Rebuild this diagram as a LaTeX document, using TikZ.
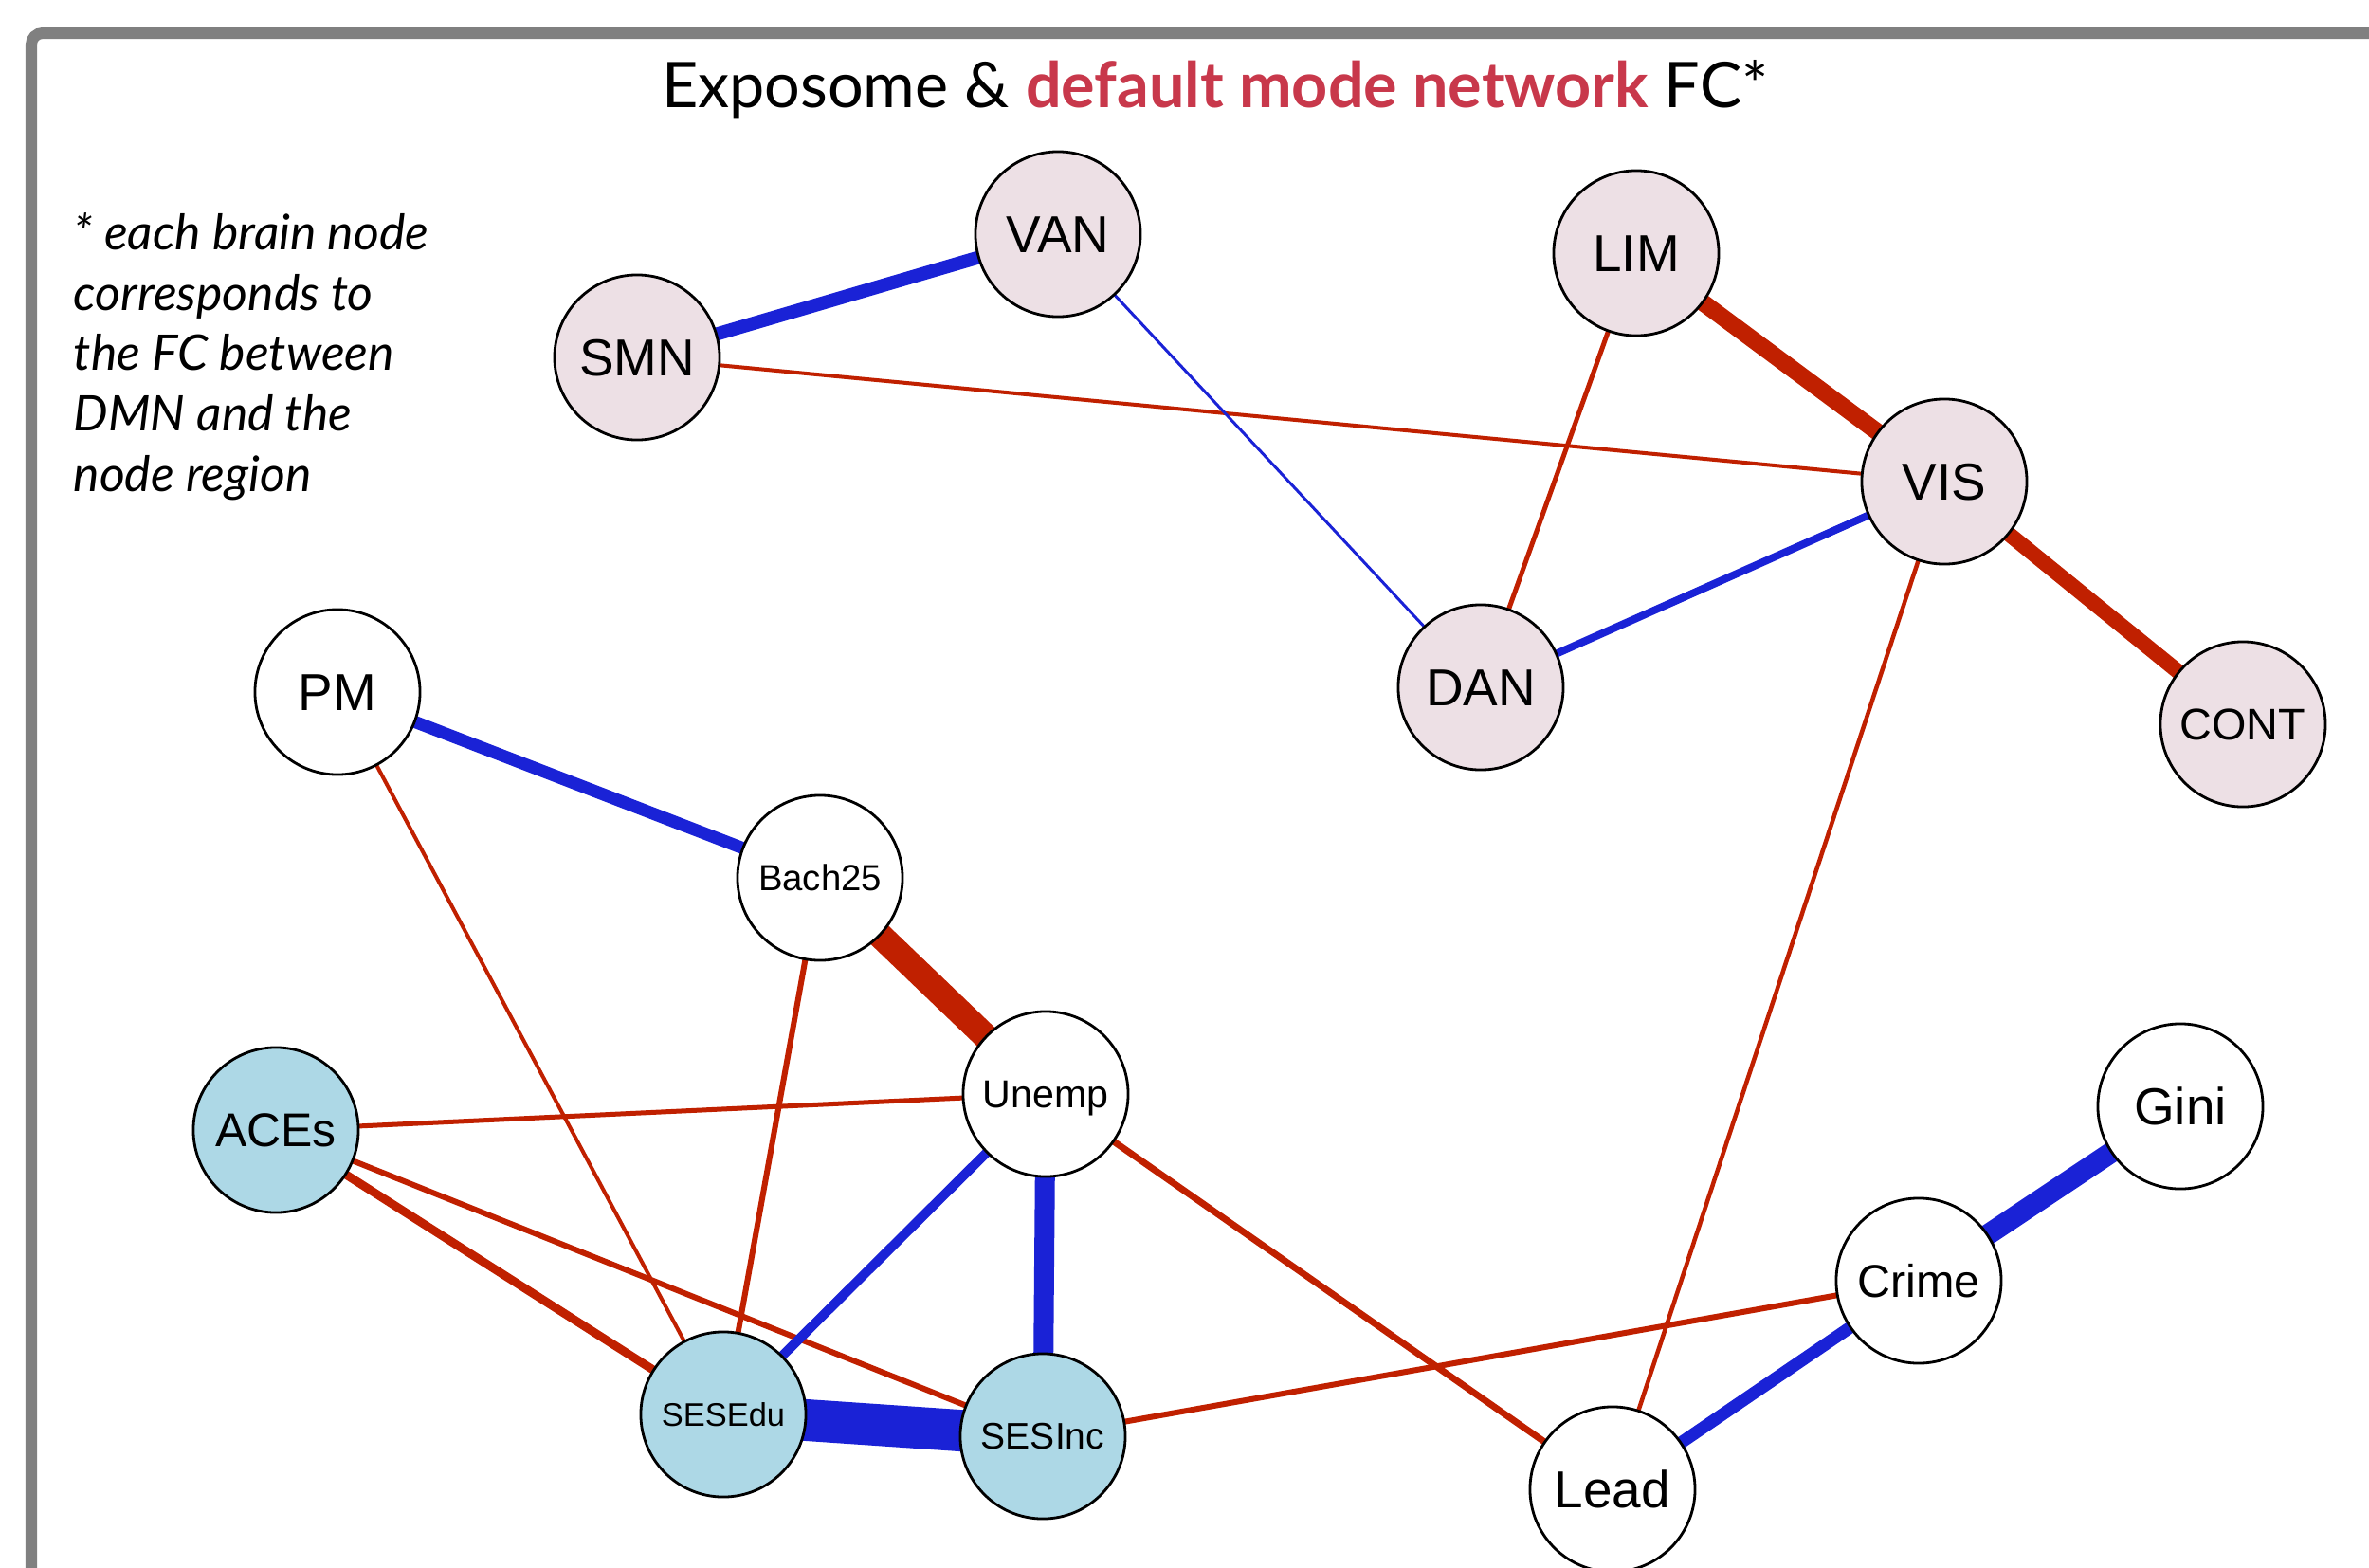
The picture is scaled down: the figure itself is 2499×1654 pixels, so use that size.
\documentclass[tikz,border=0pt]{standalone}
\usepackage{fontspec}
\setmainfont{Liberation Sans}
\newfontfamily\headfont{Lato}
\usetikzlibrary{backgrounds}

\definecolor{edgered}{RGB}{192,32,0}
\definecolor{edgeblue}{RGB}{26,34,214}
\definecolor{brainpink}{RGB}{237,224,229}
\definecolor{devblue}{RGB}{173,216,230}
\definecolor{titlered}{RGB}{200,56,75}
\definecolor{framegray}{RGB}{128,128,128}

\begin{document}
\begin{tikzpicture}[x=0.01cm,y=-0.01cm,
  net/.style={circle,draw=black,line width=0.8pt,minimum size=1.74cm,
    inner sep=0pt,text depth=0pt},
  brain/.style={net,fill=brainpink},
  expo/.style={net,fill=white},
  devel/.style={net,fill=devblue},
  % label size; the box height equals the cap height so the capitals sit centred
  lab/.style={font=\fontsize{#1}{#1}\selectfont,text height=0.716*#1},
  redlink/.style={draw=edgered,line width=#1*0.01cm},
  bluelink/.style={draw=edgeblue,line width=#1*0.01cm}]

\useasboundingbox (0,0) rectangle (2499,1654);
\clip (0,0) rectangle (2499,1654);

% outer frame
\draw[framegray,line width=0.12cm,rounded corners=0.12cm]
  (33,1800) -- (33,35) -- (2650,35);

% title
\node[anchor=base,inner sep=0pt] (title) at (1282,113)
  {\headfont\fontsize{18.9pt}{21pt}\selectfont Exposome \&
   {\color{titlered}\bfseries default mode network} FC*};

% footnote
\node[anchor=north west,inner sep=0pt,align=left,
  font=\headfont\itshape\fontsize{14.7pt}{18.1pt}\selectfont] (note) at (77,224)
  {* each brain node\\corresponds to\\the FC between\\DMN and the\\node region};

% brain network nodes
\node[brain,lab=15.6pt] (VAN) at (1116,247) {VAN};
\node[brain,lab=15.6pt] (SMN) at (672,377) {SMN};
\node[brain,lab=15.6pt] (LIM) at (1726,267) {LIM};
\node[brain,lab=15.6pt] (VIS) at (2051,508) {VIS};
\node[brain,lab=15.6pt] (DAN) at (1562,725) {DAN};
\node[brain,lab=13.3pt] (CONT) at (2366,764) {CONT};

% exposome nodes
\node[expo,lab=15.6pt] (PM) at (356,730) {PM};
\node[expo,lab=10.9pt] (Bach) at (865,926) {Bach25};
\node[expo,lab=11.7pt] (Unemp) at (1103,1154) {Unemp};
\node[expo,lab=15.6pt] (Lead) at (1701,1571) {Lead};
\node[expo,lab=13.8pt] (Crime) at (2024,1351) {Crime};
\node[expo,lab=15.6pt] (Gini) at (2300,1167) {Gini};

% developmental nodes
\node[devel,lab=14.2pt] (ACEs) at (291,1192) {ACEs};
\node[devel,lab=9.8pt] (SESEdu) at (763,1492) {SESEdu};
\node[devel,lab=11.1pt] (SESInc) at (1100,1515) {SESInc};

% connections
\begin{scope}[on background layer]
\draw[bluelink=14] (SMN.center) -- (VAN.center);
\draw[redlink=4] (SMN.center) -- (VIS.center);
\draw[bluelink=3] (VAN.center) -- (DAN.center);
\draw[redlink=18] (LIM.center) -- (VIS.center);
\draw[redlink=5] (LIM.center) -- (DAN.center);
\draw[bluelink=8] (DAN.center) -- (VIS.center);
\draw[redlink=16] (VIS.center) -- (CONT.center);
\draw[redlink=4.5] (VIS.center) -- (Lead.center);
\draw[bluelink=13] (PM.center) -- (Bach.center);
\draw[redlink=4] (PM.center) -- (SESEdu.center);
\draw[redlink=27] (Bach.center) -- (Unemp.center);
\draw[redlink=6] (Bach.center) -- (SESEdu.center);
\draw[redlink=5] (ACEs.center) -- (Unemp.center);
\draw[redlink=9] (ACEs.center) -- (SESEdu.center);
\draw[redlink=6] (ACEs.center) -- (SESInc.center);
\draw[bluelink=10] (Unemp.center) -- (SESEdu.center);
\draw[bluelink=21] (Unemp.center) -- (SESInc.center);
\draw[redlink=7] (Unemp.center) -- (Lead.center);
\draw[bluelink=44] (SESEdu.center) -- (SESInc.center);
\draw[redlink=6] (SESInc.center) -- (Crime.center);
\draw[bluelink=13] (Lead.center) -- (Crime.center);
\draw[bluelink=22] (Crime.center) -- (Gini.center);
\end{scope}
\end{tikzpicture}
\end{document}
